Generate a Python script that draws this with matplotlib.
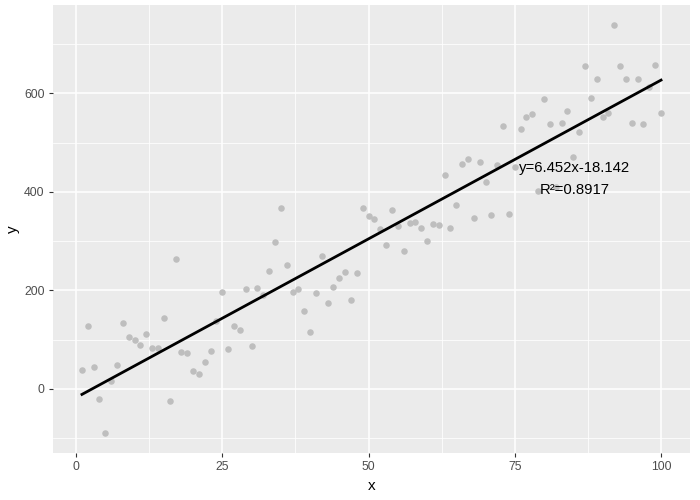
import matplotlib
matplotlib.use("Agg")
import matplotlib.pyplot as plt
import numpy as np
from matplotlib.ticker import MultipleLocator

# points, x = 1..100
x_vals = list(range(1, 101))
y_vals = [39, 128, 45, -20, -89, 16, 49, 134, 106, 100,
          88, 111, 82, 83, 143, -24, 263, 75, 73, 36,
          30, 54, 77, 138, 197, 80, 128, 119, 203, 86,
          205, 191, 239, 298, 367, 252, 196, 203, 158, 115,
          195, 270, 174, 207, 226, 237, 180, 235, 367, 351,
          344, 325, 291, 363, 331, 280, 336, 338, 327, 301,
          334, 333, 435, 327, 373, 457, 467, 347, 460, 420,
          352, 454, 534, 354, 450, 528, 551, 559, 402, 588,
          538, 410, 540, 564, 470, 522, 655, 590, 630, 552,
          561, 738, 655, 630, 540, 630, 538, 613, 658, 561]
eq_label = "y=6.452x-18.142"
r2_label = "R²=0.8917"

x = np.array(x_vals)
y = np.array(y_vals)

fig = plt.figure(figsize=(7, 5), dpi=100)
ax = fig.add_axes([0.0757, 0.094, 0.91, 0.896])
ax.set_facecolor("#EBEBEB")

ax.scatter(x, y, s=22, color="#BEBEBE", linewidths=0, zorder=3)

# least squares line over the data range
m, b = np.polyfit(x, y, 1)
ax.plot(x, m * x + b, color="black", linewidth=2.0, zorder=4)

ax.text(85.2, 448, eq_label, ha="center", va="center", fontsize=10.7,
        family="Liberation Sans", zorder=5)
ax.text(85.2, 403, r2_label, ha="center", va="center", fontsize=10.7,
        family="Liberation Sans", zorder=5)

ax.set_xlim(-3.95, 104.95)
ax.set_ylim(-130.4, 779.4)
ax.xaxis.set_major_locator(MultipleLocator(25))
ax.xaxis.set_minor_locator(MultipleLocator(12.5))
ax.yaxis.set_major_locator(MultipleLocator(200))
ax.yaxis.set_minor_locator(MultipleLocator(100))

ax.grid(which="major", color="white", linewidth=1.1, zorder=0)
ax.grid(which="minor", color="white", linewidth=0.55, zorder=0)
ax.set_axisbelow(True)
for s in ax.spines.values():
    s.set_visible(False)

ax.tick_params(which="major", length=3, width=0.8, color="#333333",
               labelcolor="#4D4D4D", labelsize=8.8, pad=3)
ax.tick_params(which="minor", length=0)
for lab in ax.get_xticklabels() + ax.get_yticklabels():
    lab.set_family("Liberation Sans")

ax.set_xlabel("x", fontsize=11, family="Liberation Sans")
ax.set_ylabel("y", fontsize=11, family="Liberation Sans")
ax.xaxis.set_label_coords(0.5, -0.058)
ax.yaxis.set_label_coords(-0.052, 0.5)

fig.savefig("out.png", dpi=100, facecolor="white")
